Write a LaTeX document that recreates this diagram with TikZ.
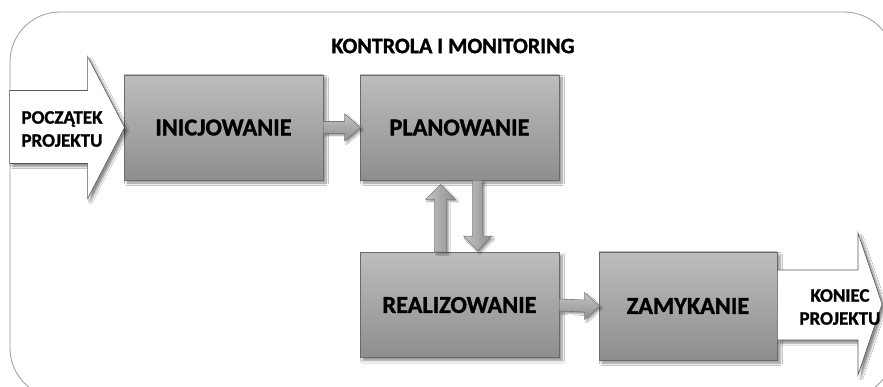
\documentclass[tikz,border=0pt]{standalone}
\usepackage{fontspec}
\setmainfont{Carlito}[BoldFeatures={FakeBold=1.2}]
\usetikzlibrary{calc,shadows.blur}
\definecolor{boxtop}{HTML}{BDBDBD}
\definecolor{boxbot}{HTML}{8E8E8E}
\definecolor{boxline}{HTML}{6A6A6A}
\definecolor{frameline}{HTML}{9A9A9A}
\tikzset{
  x=1pt, y=-1pt,
  procbox/.style={rectangle, draw=boxline, line width=0.8pt, top color=boxtop, bottom color=boxbot,
    minimum width=199pt, minimum height=105pt, inner sep=0pt,
    font=\bfseries\fontsize{24.3}{27}\selectfont, text=black,
    blur shadow={shadow xshift=3pt, shadow yshift=-3pt, shadow blur radius=2.5pt, shadow blur steps=6, shadow opacity=45}},
  smallarrow/.style={draw=boxline!90, line width=0.6pt, top color=boxtop!90!white, bottom color=boxbot, line join=miter,
    blur shadow={shadow xshift=2pt, shadow yshift=-2pt, shadow blur radius=1.5pt, shadow blur steps=4, shadow opacity=40}},
  vsmallarrow/.style={draw=boxline!90, line width=0.6pt, left color=boxtop!90!white, right color=boxbot, line join=miter,
    blur shadow={shadow xshift=2pt, shadow yshift=-2pt, shadow blur radius=1.5pt, shadow blur steps=4, shadow opacity=40}},
  bigarrow/.style={draw=black!65, line width=0.6pt, fill=white, line join=miter,
    blur shadow={shadow xshift=3pt, shadow yshift=-3pt, shadow blur radius=2pt, shadow blur steps=5, shadow opacity=45}},
  endlabel/.style={font=\bfseries\fontsize{19}{23}\selectfont, align=center, text=black, inner sep=0pt},
  titlelabel/.style={font=\bfseries\fontsize{22}{24}\selectfont, text=black, inner sep=0pt},
  frame/.style={draw=frameline, line width=0.8pt, rounded corners=50pt}
}
\begin{document}
\begin{tikzpicture}
\useasboundingbox (0,0) rectangle (883,387);
\fill[white] (0,0) rectangle (883,387);
% outer frame
\draw[frame] (10,12) rectangle (894,398);
\node[titlelabel] (title) at (453,46) {KONTROLA I MONITORING};

% boxes
\node[procbox] (ini)  at (223.5,127.5) {INICJOWANIE};
\node[procbox] (plan) at (459.5,127.5) {PLANOWANIE};
\node[procbox] (real) at (459.5,305) {REALIZOWANIE};
\node[procbox, minimum width=178pt, minimum height=108pt] (zam) at (688,306) {ZAMYKANIE};

% big start arrow
\draw[bigarrow] ($(ini.west)+(-114,-37)$) -- ($(ini.west)+(-36,-37)$) -- ($(ini.west)+(-36,-71)$)
   -- ($(ini.west)+(1,0)$) -- ($(ini.west)+(-36,71)$) -- ($(ini.west)+(-36,36)$) -- ($(ini.west)+(-114,36)$) -- cycle;
\node[endlabel] (start) at (62,129) {POCZĄTEK\\PROJEKTU};

% big end arrow
\draw[bigarrow] (zam.east |- 0,270) -- (858,270) -- (858,233) -- (882,304) -- (858,375) -- (858,340) -- (zam.east |- 0,340) -- cycle;
\node[endlabel] (end) at (840,307) {KONIEC\\PROJEKTU};

% small arrows
\draw[smallarrow] ($(ini.east)+(0,-6)$) -- ($(plan.west)+(-15,-6)$) -- ($(plan.west)+(-15,-13.5)$) -- ($(plan.west)+(1,0)$)
  -- ($(plan.west)+(-15,13.5)$) -- ($(plan.west)+(-15,6)$) -- ($(ini.east)+(0,6)$) -- cycle;
\draw[smallarrow] ($(real.east)+(0,-6)$) -- ($(zam.west)+(-14,-6)$) -- ($(zam.west)+(-14,-13.5)$) -- ($(zam.west)+(1,0)$)
  -- ($(zam.west)+(-14,13.5)$) -- ($(zam.west)+(-14,6)$) -- ($(real.east)+(0,6)$) -- cycle;
% up arrow (realizowanie -> planowanie)
\coordinate (ub) at ($(real.north west)+(81,0)$);
\coordinate (ut) at ($(plan.south west)+(81,4)$);
\draw[vsmallarrow] ($(ub)+(-6,0)$) -- ($(ut)+(-6,15)$) -- ($(ut)+(-15,15)$) -- (ut) -- ($(ut)+(15,15)$) -- ($(ut)+(6,15)$) -- ($(ub)+(6,0)$) -- cycle;
% down arrow (planowanie -> realizowanie)
\coordinate (ds) at ($(plan.south west)+(118,0)$);
\coordinate (dt) at ($(real.north west)+(118,-1)$);
\draw[vsmallarrow] ($(ds)+(-5,0)$) -- ($(dt)+(-5,-15)$) -- ($(dt)+(-14,-15)$) -- (dt) -- ($(dt)+(14,-15)$) -- ($(dt)+(5,-15)$) -- ($(ds)+(5,0)$) -- cycle;
\end{tikzpicture}
\end{document}
